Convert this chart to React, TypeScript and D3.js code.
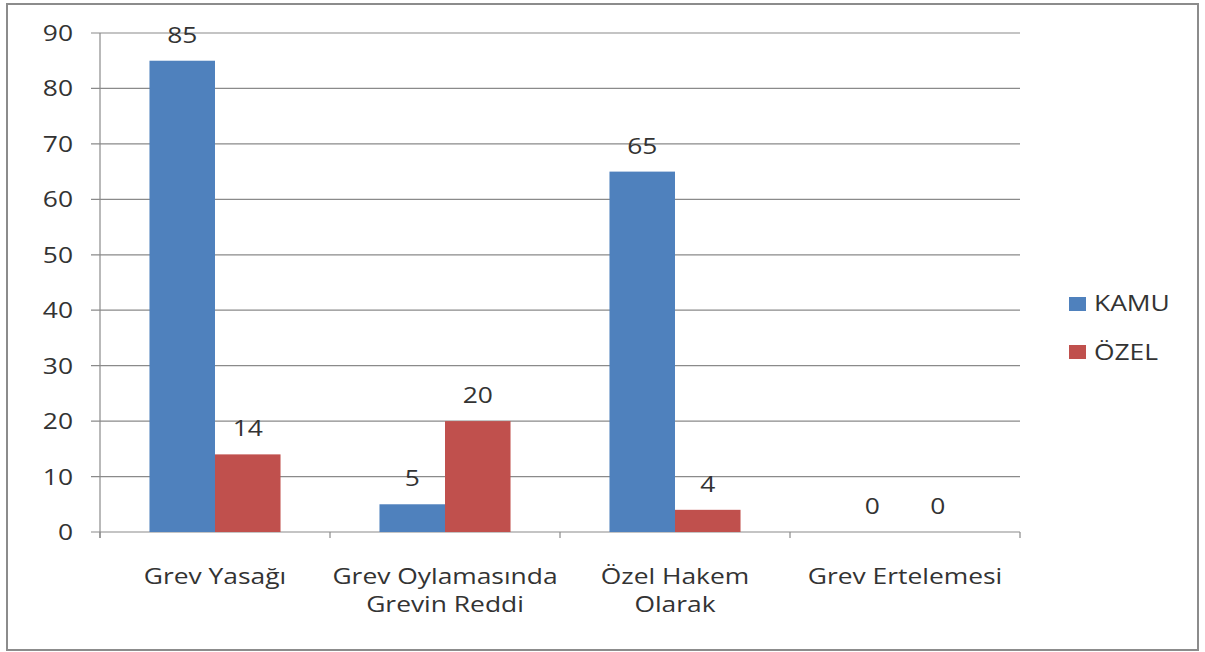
import React from "react";
import * as d3 from "d3";

const categories: string[][] = [
  ["Grev Yasağı"],
  ["Grev Oylamasında", "Grevin Reddi"],
  ["Özel Hakem", "Olarak"],
  ["Grev Ertelemesi"],
];
const seriesNames = ["KAMU", "ÖZEL"];
const kamu = [85, 5, 65, 0];
const ozel = [14, 20, 4, 0];
const yTicks = [0, 10, 20, 30, 40, 50, 60, 70, 80, 90];
const colors = ["#4f81bd", "#c0504d"];

const W = 1205;
const H = 652;
const left = 100;
const right = 1020;
const top = 33;
const bottom = 532;
const font = "'Open Sans', 'Noto Sans', sans-serif";
const FS = 22;
const SX = 1.2;

function T({ x, y, anchor = "start", children }: { x: number; y: number; anchor?: string; children: React.ReactNode }) {
  return (
    <text
      transform={`translate(${x},${y}) scale(${SX},1)`}
      textAnchor={anchor}
      fontFamily={font}
      fontSize={FS}
      fill="#333"
    >
      {children}
    </text>
  );
}

export default function App() {
  const keys = categories.map((c) => c.join(" "));
  const x = d3.scaleBand<string>().domain(keys).range([left, right]).paddingInner(0).paddingOuter(0);
  const inner = d3.scaleBand<string>().domain(seriesNames).range([0, x.bandwidth()]).paddingInner(0).paddingOuter(0.755);
  const y = d3.scaleLinear().domain([0, 90]).range([bottom, top]);
  const series = [kamu, ozel];

  return (
    <svg width={W} height={H} style={{ position: "absolute", left: 0, top: 0, background: "#fff" }}>
      <rect x={7} y={4} width={1191} height={646} fill="#fff" stroke="#8c8c8c" strokeWidth={2} />
      {yTicks.map((t) => (
        <g key={t}>
          <line x1={left - 9} x2={right} y1={y(t)} y2={y(t)} stroke="#8a8a8a" strokeWidth={1.2} />
          <T x={73} y={y(t) + 8} anchor="end">
            {t}
          </T>
        </g>
      ))}
      <line x1={left} x2={left} y1={top} y2={bottom + 6} stroke="#8a8a8a" strokeWidth={1.2} />
      {[...keys.map((k) => x(k)!), right].map((px, i) => (
        <line key={i} x1={px} x2={px} y1={bottom} y2={bottom + 6} stroke="#8a8a8a" strokeWidth={1.2} />
      ))}
      {keys.map((k, ci) => (
        <g key={k}>
          {series.map((s, si) => {
            const bx = x(k)! + inner(seriesNames[si])!;
            const v = s[ci];
            return (
              <g key={si}>
                {v > 0 && (
                  <rect x={bx} y={y(v)} width={inner.bandwidth()} height={bottom - y(v)} fill={colors[si]} />
                )}
                <T x={bx + inner.bandwidth() / 2} y={y(v) - 18} anchor="middle">
                  {v}
                </T>
              </g>
            );
          })}
          {categories[ci].map((line, li) => (
            <T key={li} x={x(k)! + x.bandwidth() / 2} y={584 + li * 28} anchor="middle">
              {line}
            </T>
          ))}
        </g>
      ))}
      {seriesNames.map((n, i) => (
        <g key={n}>
          <rect x={1069} y={297 + i * 48} width={17} height={14} fill={colors[i]} />
          <T x={1094} y={311 + i * 49}>
            {n}
          </T>
        </g>
      ))}
    </svg>
  );
}
